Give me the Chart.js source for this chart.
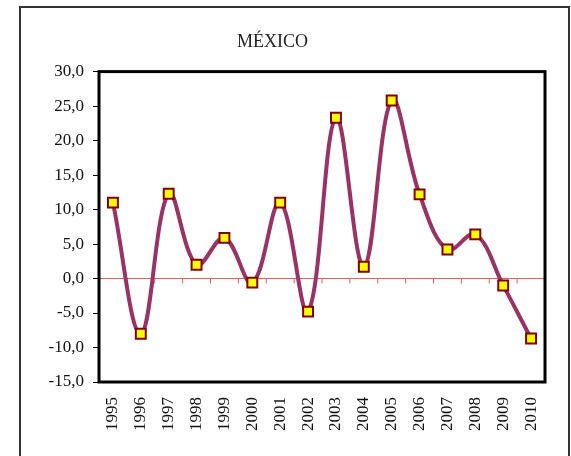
<!DOCTYPE html>
<html>
<head>
<meta charset="utf-8">
<script src="https://cdn.jsdelivr.net/npm/chart.js@4/dist/chart.umd.min.js"></script>
<style>
body{margin:0;background:#fff;}
#frame{position:absolute;left:19px;top:6px;width:547px;height:470px;border:2px solid #333;}
#wrap{position:absolute;left:0;top:0;width:571px;height:456px;}
</style>
</head>
<body>
<div id="frame"></div>
<div id="wrap"><canvas id="myChart" width="571" height="456"></canvas></div>
<script>
var years=["1995","1996","1997","1998","1999","2000","2001","2002","2003","2004","2005","2006","2007","2008","2009","2010"];
var mexico=[11.0,-8.0,12.3,2.0,5.9,-0.6,11.0,-4.8,23.3,1.7,25.8,12.2,4.2,6.4,-1.0,-8.7];
var yMin=-15, yMax=30, yStep=5;

Chart.defaults.font.family="'Times New Roman', 'Liberation Serif', serif";
Chart.defaults.color="#111";

// plot frame + little red ticks on the zero line
var framePlugin={
    id:"frame",
    beforeDatasetsDraw:function(chart){
        var c=chart.ctx, a=chart.chartArea, xs=chart.scales.x, ys=chart.scales.y;
        var y0=ys.getPixelForValue(0);
        c.save();
        c.strokeStyle="#e06060";
        c.lineWidth=1;
        for(var i=1;i<years.length;i++){
            var bx=(xs.getPixelForValue(i-1)+xs.getPixelForValue(i))/2;
            c.beginPath();
            c.moveTo(bx,y0);
            c.lineTo(bx,y0+5);
            c.stroke();
        }
        c.strokeStyle="#000";
        c.lineWidth=3;
        c.strokeRect(a.left,a.top,a.right-a.left,a.bottom-a.top);
        c.restore();
    }
};

var ctx=document.getElementById("myChart");
var myChart=new Chart(ctx,{
    type:'line',
    data:{
        labels:years,
        datasets:[{
            data:mexico,
            label:"México",
            borderColor:"#993366",
            borderWidth:4,
            tension:0.38,
            fill:false,
            pointStyle:'rect',
            pointRadius:7,
            pointBorderWidth:2,
            pointBackgroundColor:"#ffff00",
            pointBorderColor:"#800000"
        }]
    },
    options:{
        responsive:false,
        animation:false,
        layout:{padding:{left:0,right:26,top:0,bottom:0}},
        plugins:{
            legend:{display:false},
            tooltip:{enabled:false},
            title:{
                display:true,
                text:"MÉXICO",
                font:{size:18,weight:'normal'},
                color:"#222",
                padding:{top:31,bottom:19}
            }
        },
        scales:{
            x:{
                offset:true,
                grid:{display:false,drawTicks:false},
                border:{display:false},
                ticks:{minRotation:90,maxRotation:90,padding:15,font:{size:17},color:"#111"},
                afterFit:function(s){s.height=74;}
            },
            y:{
                min:yMin,
                max:yMax,
                border:{display:false},
                grid:{
                    drawOnChartArea:true,
                    color:function(c){return c.tick && c.tick.value===0 ? "#e06060" : "rgba(0,0,0,0)";},
                    tickColor:"#000",
                    tickLength:6,
                    lineWidth:1
                },
                ticks:{
                    stepSize:yStep,
                    padding:9,
                    font:{size:17},
                    color:"#111",
                    callback:function(v){return v.toFixed(1).replace('.',',');}
                },
                afterFit:function(s){s.width=99;}
            }
        }
    },
    plugins:[framePlugin]
});
</script>
</body>
</html>
